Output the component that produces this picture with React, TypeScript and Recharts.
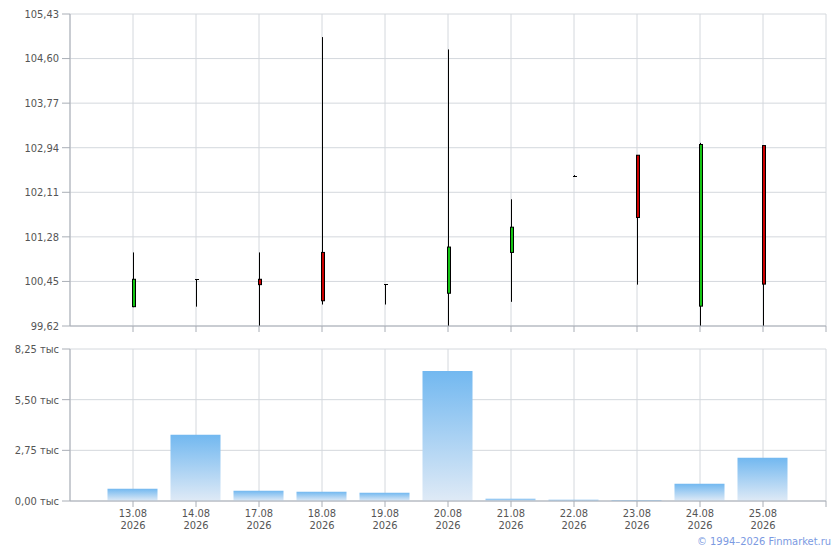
import React from 'react';
import { ComposedChart, Bar, XAxis, YAxis, CartesianGrid } from 'recharts';

const dates = ['13.08', '14.08', '17.08', '18.08', '19.08', '20.08', '21.08', '22.08', '23.08', '24.08', '25.08'];
const year = '2026';
const openPrices = [99.98, 100.49, 100.49, 100.99, 100.4, 100.23, 100.99, 102.41, 102.8, 99.99, 102.98];
const highPrices = [100.99, 100.49, 100.99, 105.0, 100.4, 104.77, 101.98, 102.43, 102.8, 103.03, 102.98];
const lowPrices = [99.97, 99.98, 99.62, 100.02, 100.02, 99.62, 100.07, 102.41, 100.39, 99.62, 99.62];
const closePrices = [100.49, 100.49, 100.39, 100.09, 100.4, 101.09, 101.46, 102.41, 101.64, 103.0, 100.4];
const volumes = [666, 3590, 558, 504, 450, 7058, 125, 70, 60, 937, 2346];

const priceTicks = [99.62, 100.45, 101.28, 102.11, 102.94, 103.77, 104.6, 105.43];
const volumeTicks = [0, 2750, 5500, 8250];
const xTicks = [1, 2, 3, 4, 5, 6, 7, 8, 9, 10, 11, 12];

const data = dates.map((d, i) => ({
  idx: i + 1,
  date: d,
  open: openPrices[i],
  high: highPrices[i],
  low: lowPrices[i],
  close: closePrices[i],
  volume: volumes[i],
}));

const FONT = '"DejaVu Sans Condensed", "DejaVu Sans", sans-serif';
const GRID = '#d4d8dd';
const AXIS = '#a9aeb6';
const TEXT = '#555555';

const Candle = (props: any) => {
  const { x, y, width, height, payload } = props;
  if (!payload) return null;
  const { open, close, high, low } = payload;
  const range = high - low;
  const scale = range > 0 ? height / range : 0;
  const yOf = (v: number) => y + (high - v) * scale;
  const cx = Math.round(x + width / 2) + 0.5;
  const top = yOf(Math.max(open, close));
  const bot = yOf(Math.min(open, close));
  const up = close > open;
  const doji = Math.abs(open - close) < 0.005;
  return (
    <g>
      <line x1={cx} x2={cx} y1={y} y2={y + height} stroke="#000" strokeWidth={1} />
      {doji ? (
        <line x1={cx - 1.5} x2={cx + 2.5} y1={Math.round(top) + 0.5} y2={Math.round(top) + 0.5} stroke="#000" strokeWidth={1} />
      ) : (
        <rect
          x={cx - 1}
          y={top}
          width={3}
          height={Math.max(bot - top, 1)}
          fill={up ? '#14c414' : '#cc0000'}
          stroke="#000"
          strokeWidth={1}
        />
      )}
    </g>
  );
};

const EmptyTick = () => <g />;

const DateTick = (props: any) => {
  const { x, y, payload } = props;
  const i = payload.value - 1;
  if (i < 0 || i >= dates.length) return <g />;
  return (
    <text x={x} y={y} textAnchor="middle" fill={TEXT} fontSize={11} fontFamily={FONT}>
      <tspan x={x} y={y + 8}>{dates[i]}</tspan>
      <tspan x={x} y={y + 20}>{year}</tspan>
    </text>
  );
};

const fmtPrice = (v: number) => v.toFixed(2).replace('.', ',');
const fmtVol = (v: number) => (v / 1000).toFixed(2).replace('.', ',') + ' тыс';

export default function App() {
  return (
    <div style={{ position: 'absolute', left: 0, top: 0, width: 840, height: 550, background: '#fff' }}>
      <div style={{ position: 'absolute', left: 0, top: 0 }}>
        <ComposedChart width={840} height={340} data={data} margin={{ top: 14, right: 14, bottom: 0, left: 0 }}>
          <CartesianGrid stroke={GRID} strokeWidth={1} />
          <XAxis
            type="number"
            dataKey="idx"
            domain={[0, 12]}
            ticks={xTicks}
            height={14}
            tickSize={6}
            tick={<EmptyTick />}
            axisLine={{ stroke: AXIS }}
            tickLine={{ stroke: AXIS }}
            allowDataOverflow
          />
          <YAxis
            type="number"
            domain={[99.62, 105.43]}
            ticks={priceTicks}
            width={70}
            tickSize={8}
            tickMargin={3}
            tickFormatter={fmtPrice}
            tick={{ fill: TEXT, fontSize: 11, fontFamily: FONT }}
            axisLine={{ stroke: AXIS }}
            tickLine={{ stroke: AXIS }}
            allowDataOverflow
          />
          <Bar
            dataKey={(d: any) => [d.low, d.high]}
            barSize={6}
            shape={<Candle />}
            isAnimationActive={false}
          />
        </ComposedChart>
      </div>
      <div style={{ position: 'absolute', left: 0, top: 335 }}>
        <ComposedChart width={840} height={215} data={data} margin={{ top: 14, right: 14, bottom: 0, left: 0 }}>
          <defs>
            <linearGradient id="volGrad" x1="0" y1="0" x2="0" y2="1">
              <stop offset="0%" stopColor="#72b8f0" />
              <stop offset="100%" stopColor="#dfeaf6" />
            </linearGradient>
          </defs>
          <CartesianGrid stroke={GRID} strokeWidth={1} />
          <XAxis
            type="number"
            dataKey="idx"
            domain={[0, 12]}
            ticks={xTicks}
            height={49}
            tickSize={6}
            tick={<DateTick />}
            axisLine={{ stroke: AXIS }}
            tickLine={{ stroke: AXIS }}
            allowDataOverflow
          />
          <YAxis
            type="number"
            domain={[0, 8250]}
            ticks={volumeTicks}
            width={70}
            tickSize={8}
            tickMargin={3}
            tickFormatter={fmtVol}
            tick={{ fill: TEXT, fontSize: 11, fontFamily: FONT }}
            axisLine={{ stroke: AXIS }}
            tickLine={{ stroke: AXIS }}
            allowDataOverflow
          />
          <Bar dataKey="volume" barSize={50} fill="url(#volGrad)" isAnimationActive={false} />
        </ComposedChart>
      </div>
      <div
        style={{
          position: 'absolute',
          right: 9,
          top: 535,
          fontFamily: FONT,
          fontSize: 11,
          lineHeight: '14px',
          color: '#7b9ae2',
          whiteSpace: 'nowrap',
        }}
      >
        © 1994–2026 Finmarket.ru
      </div>
    </div>
  );
}
